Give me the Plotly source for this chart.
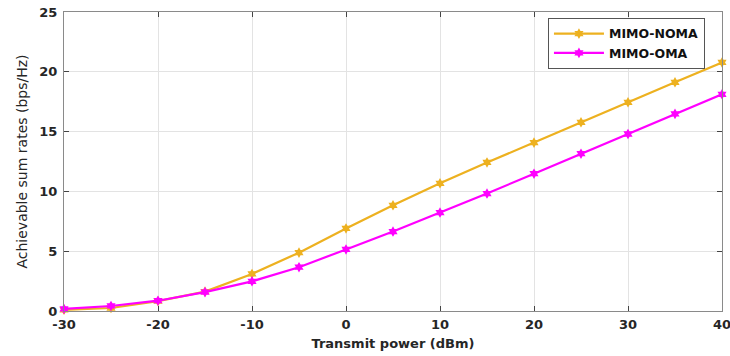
import plotly.graph_objects as go

power_dbm = [-30, -25, -20, -15, -10, -5, 0, 5, 10, 15, 20, 25, 30, 35, 40]
mimo_noma = [0.1, 0.25, 0.82, 1.62, 3.1, 4.88, 6.9, 8.84, 10.68, 12.42, 14.08, 15.78, 17.45, 19.12, 20.78]
mimo_oma = [0.17, 0.42, 0.86, 1.58, 2.48, 3.66, 5.15, 6.64, 8.23, 9.82, 11.48, 13.15, 14.8, 16.48, 18.12]

x_ticks = [-30, -20, -10, 0, 10, 20, 30, 40]
y_ticks = [0, 5, 10, 15, 20, 25]

FONT = "DejaVu Sans"

fig = go.Figure()
fig.add_trace(go.Scatter(
    x=power_dbm, y=mimo_noma, name="MIMO-NOMA", mode="lines+markers",
    line=dict(color="#EDB120", width=2.2),
    marker=dict(symbol="hexagram", size=8, color="#EDB120"),
    cliponaxis=False,
))
fig.add_trace(go.Scatter(
    x=power_dbm, y=mimo_oma, name="MIMO-OMA", mode="lines+markers",
    line=dict(color="#FF00FF", width=2.2),
    marker=dict(symbol="hexagram", size=8, color="#FF00FF"),
    cliponaxis=False,
))

axis_common = dict(
    automargin=False,
    showline=True, linecolor="#8a8a8a", linewidth=1.2, mirror="ticks",
    ticks="inside", ticklen=5, tickcolor="#444444",
    showgrid=True, gridcolor="#e3e3e3", gridwidth=1, zeroline=False,
    ticklabeloverflow="allow",
    tickfont=dict(family=FONT, size=13, color="#262626", weight="bold"),
)

fig.update_layout(
    width=730, height=356,
    margin=dict(l=64, r=8, t=12, b=45),
    paper_bgcolor="white", plot_bgcolor="white",
    showlegend=True,
    legend=dict(
        x=0.7355, y=0.98, xanchor="left", yanchor="top",
        bordercolor="#555555", borderwidth=1, bgcolor="white",
        font=dict(family=FONT, size=12.5, color="#111111", weight="bold"),
        tracegroupgap=0, itemwidth=50,
    ),
    xaxis=dict(
        range=[-30, 40], tickvals=x_ticks, ticktext=[str(v) for v in x_ticks],
        ticklabelstandoff=1,
        title=dict(text="Transmit power (dBm)", standoff=8,
                   font=dict(family=FONT, size=13, color="#262626", weight="bold")),
        **axis_common,
    ),
    yaxis=dict(
        range=[0, 25], tickvals=y_ticks, ticktext=[str(v) for v in y_ticks],
        ticklabelstandoff=3,
        title=dict(text="Achievable sum rates (bps/Hz)", standoff=8,
                   font=dict(family=FONT, size=14, color="#262626")),
        **axis_common,
    ),
)

# remove the default page margin so the figure sits at the window's corner
fig.write_html("out.html", config={"displayModeBar": False},
               post_script="document.body.style.margin='0px';")
